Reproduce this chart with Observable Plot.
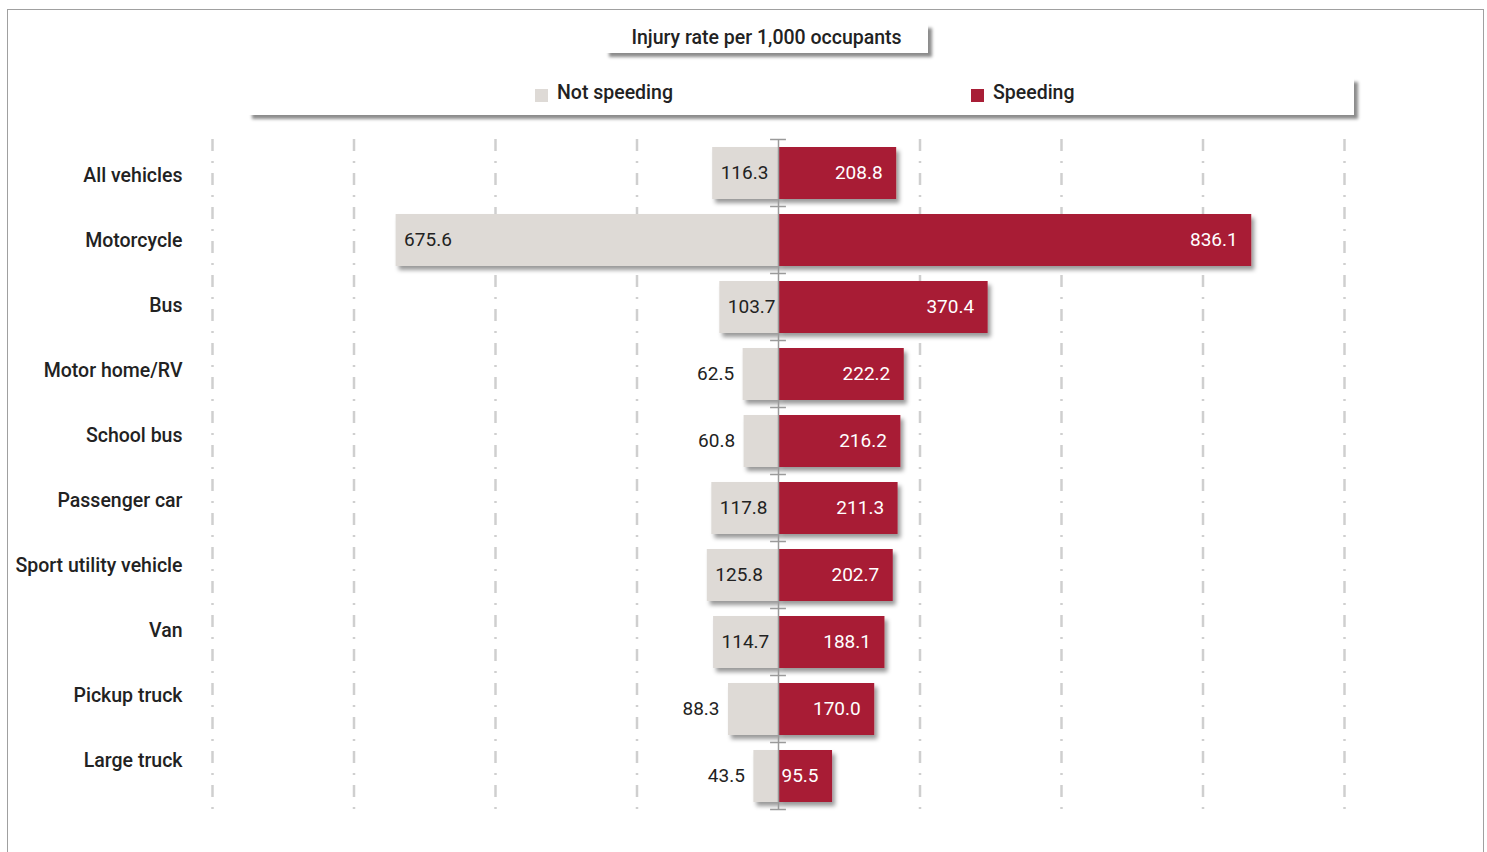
<!DOCTYPE html>
<html>
<head>
<meta charset="utf-8">
<script src="https://cdn.jsdelivr.net/npm/d3@7"></script>
<script src="https://cdn.jsdelivr.net/npm/@observablehq/plot@0.6"></script>
<style>
  html, body { margin: 0; padding: 0; background: #fff; }
  body { width: 1487px; height: 852px; position: relative; overflow: hidden; font-family: Roboto, "Open Sans", sans-serif; color: #222; }
  #frame { position: absolute; left: 7px; top: 9px; width: 1477px; height: 900px; border: 1.5px solid #a0a0a0; box-sizing: border-box; }
  .box { position: absolute; background: #fff; box-shadow: 4px 4px 3px rgba(0,0,0,0.45); }
  #title { left: 605px; top: 24px; width: 323px; height: 29px; font-size: 19.5px; font-weight: 500; text-align: center; line-height: 28px; z-index: 2; }
  #legend { left: 248px; top: 78px; width: 1106px; height: 37px; z-index: 2; font-size: 19.5px; font-weight: 500; }
  .item { position: absolute; top: 0; height: 37px; line-height: 30px; white-space: nowrap; }
  .sw { display: inline-block; width: 13px; height: 13px; vertical-align: -3px; margin-right: 9px; }
  #main, #labels { position: absolute; left: 0; top: 0; }
  #labels { pointer-events: none; }
</style>
</head>
<body>
<div id="frame"></div>
<div id="title" class="box"></div>
<div id="legend" class="box"></div>
<div id="main"></div>
<div id="labels"></div>
<script>
// ---- data ----
const categories = ["All vehicles", "Motorcycle", "Bus", "Motor home/RV", "School bus", "Passenger car", "Sport utility vehicle", "Van", "Pickup truck", "Large truck"];
const notSpeeding = [116.3, 675.6, 103.7, 62.5, 60.8, 117.8, 125.8, 114.7, 88.3, 43.5];
const speeding = [208.8, 836.1, 370.4, 222.2, 216.2, 211.3, 202.7, 188.1, 170.0, 95.5];
const gridTicks = [-1000, -750, -500, -250, 250, 500, 750, 1000];
const seriesNames = ["Not speeding", "Speeding"];
const seriesColors = ["#dedad6", "#a81e36"];
const titleText = "Injury rate per 1,000 occupants";

// ---- header ----
document.getElementById("title").textContent = titleText;
const legend = document.getElementById("legend");
const itemLefts = [287, 723];
seriesNames.forEach((name, k) => {
  const it = document.createElement("div");
  it.className = "item";
  it.style.left = itemLefts[k] + "px";
  const sw = document.createElement("span");
  sw.className = "sw";
  sw.style.background = seriesColors[k];
  it.appendChild(sw);
  it.appendChild(document.createTextNode(name));
  legend.appendChild(it);
});

// ---- chart ----
const rows = categories.map((c, i) => ({c, i, ns: notSpeeding[i], sp: speeding[i]}));
const fontStack = "Roboto, 'Open Sans', sans-serif";

const chart = Plot.plot({
  width: 1487,
  height: 852,
  marginLeft: 212,
  marginRight: 143,
  marginTop: 139,
  marginBottom: 43,
  x: {domain: [-1000, 1000], axis: null},
  y: {domain: [0, categories.length], reverse: true, axis: null},
  style: {fontFamily: fontStack, fontWeight: 400, background: "transparent", overflow: "visible"},
  marks: [
    Plot.ruleX(gridTicks, {y1: 0, y2: categories.length, stroke: "#cfcfcf", strokeWidth: 2.5, strokeDasharray: "12,10,2,10"}),
    Plot.rect(rows, {x1: d => -d.ns, x2: 0, y1: d => d.i, y2: d => d.i + 1, insetTop: 8, insetBottom: 7, fill: seriesColors[0]}),
    Plot.rect(rows, {x1: 0, x2: d => d.sp, y1: d => d.i, y2: d => d.i + 1, insetTop: 8, insetBottom: 7, fill: seriesColors[1]}),
    Plot.ruleX([0], {y1: 0, y2: categories.length, stroke: "#9a9a9a", strokeWidth: 1.5}),
    Plot.ruleY(d3.range(categories.length + 1), {x1: -14, x2: 14, stroke: "#9a9a9a", strokeWidth: 1.5}),
    Plot.text(rows.filter(d => d.ns >= 100), {x: d => -d.ns, y: d => d.i + 0.5, text: d => d.ns.toFixed(1), textAnchor: "start", dx: 8, fill: "#222", fontSize: 19}),
    Plot.text(rows.filter(d => d.ns < 100), {x: d => -d.ns, y: d => d.i + 0.5, text: d => d.ns.toFixed(1), textAnchor: "end", dx: -9, fill: "#222", fontSize: 19}),
    Plot.text(rows, {x: d => d.sp, y: d => d.i + 0.5, text: d => d.sp.toFixed(1), textAnchor: "end", dx: -14, fill: "#fff", fontSize: 19})
  ]
});

// drop shadows on bars
const ns = "http://www.w3.org/2000/svg";
const defs = document.createElementNS(ns, "defs");
defs.innerHTML = '<filter id="barShadow" x="-5%" y="-20%" width="115%" height="150%"><feDropShadow dx="3" dy="4" stdDeviation="2" flood-color="#000" flood-opacity="0.4"/></filter>';
chart.insertBefore(defs, chart.firstChild);
chart.querySelectorAll("g[aria-label='rect']").forEach(g => g.setAttribute("filter", "url(#barShadow)"));
document.getElementById("main").appendChild(chart);

// category labels (own band scale)
const labelsPlot = Plot.plot({
  width: 1487,
  height: 852,
  marginLeft: 190,
  marginRight: 0,
  marginTop: 141,
  marginBottom: 57,
  x: {domain: [0, 1], axis: null},
  y: {type: "band", domain: categories, padding: 0},
  style: {fontFamily: fontStack, fontWeight: 500, fontSize: "19.5px", color: "#222", background: "transparent"},
  marks: [
    Plot.axisY({tickSize: 0, tickPadding: 8, label: null, fill: "#222"})
  ]
});
document.getElementById("labels").appendChild(labelsPlot);
</script>
</body>
</html>
